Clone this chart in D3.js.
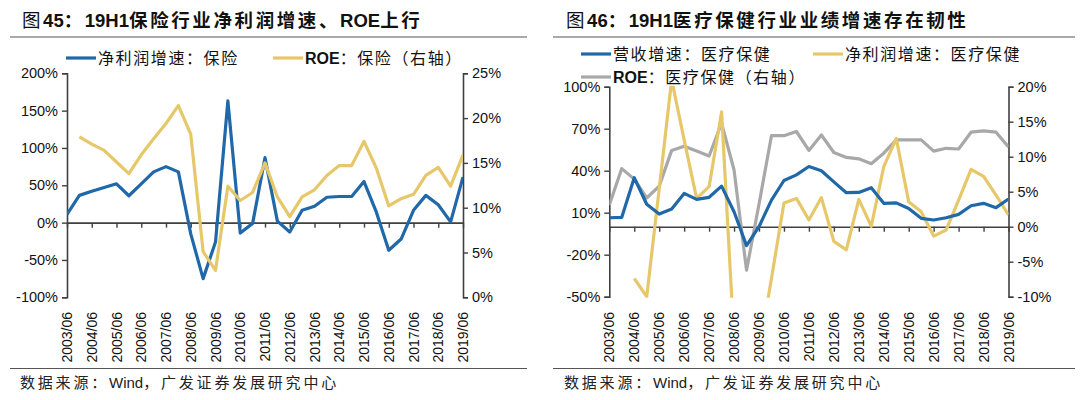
<!DOCTYPE html>
<html>
<head>
<meta charset="utf-8">
<script src="https://cdn.jsdelivr.net/npm/d3@7"></script>
<style>
  body { margin: 0; background: #fff; }
  svg { display: block; }
</style>
</head>
<body>
<div id="chart"></div>
<script>
// semi-annual periods, 2003/06 .. 2019/06
var periods = [
  "2003/06","2003/12","2004/06","2004/12","2005/06","2005/12","2006/06","2006/12",
  "2007/06","2007/12","2008/06","2008/12","2009/06","2009/12","2010/06","2010/12",
  "2011/06","2011/12","2012/06","2012/12","2013/06","2013/12","2014/06","2014/12",
  "2015/06","2015/12","2016/06","2016/12","2017/06","2017/12","2018/06","2018/12","2019/06"
];

// chart 45: insurance
var insProfitGrowth = [11, 36.5, 42, 47, 52, 36, 52, 68, 75, 68, -15, -75, -26, 163, -14, -1,
  87, 2, -12.5, 16.5, 22, 34, 35, 35, 55, 14, -37, -22, 16.5, 36.5, 24, 1, 61];
var insRoe = [null, 17.9, 17.1, 16.4, 15.1, 13.8, 15.9, 17.7, 19.4, 21.4, 18.2, 5.1, 3.0, 12.4, 10.8, 11.7,
  15.0, 11.2, 9.0, 11.2, 12.0, 13.6, 14.7, 14.7, 17.4, 14.4, 10.2, 11.0, 11.5, 13.6, 14.5, 12.4, 15.9];
var insLeftTicks = [-100, -50, 0, 50, 100, 150, 200];
var insRightTicks = [0, 5, 10, 15, 20, 25];

// chart 46: healthcare
var hcRevenueGrowth = [6.4, 6.7, 35, 16, 9, 12.6, 23.8, 19.5, 21, 29, 10.7, -13.5, 0, 19, 33, 37,
  43, 40, 32, 24.3, 24.5, 27.9, 16.7, 17, 13, 6, 4.8, 6.4, 8.8, 15, 16.7, 13.6, 19.8];
var hcProfitGrowth = [null, null, -37, -50, 27, 105, 62, 20.2, 28.6, 82, -81, -100, -89, -37, 17, 20.2,
  4.8, 20.8, -10.5, -16.5, 19.5, 0.3, 42.9, 63, 17.9, 10.7, -6.7, -2.4, 19, 41, 36, 22.6, 8.4];
var hcRoe = [3.1, 8.3, 6.8, 4.1, 5.8, 10.9, 11.5, 10.8, 10.1, 14.8, 8.1, -6.2, 3.2, 13, 13, 13.6,
  10.9, 13.1, 10.6, 9.9, 9.7, 9.0, 10.5, 12.4, 12.4, 12.4, 10.8, 11.2, 11.1, 13.5, 13.7, 13.5, 11.4];
var hcLeftTicks = [-50, -20, 10, 40, 70, 100];
var hcRightTicks = [-10, -5, 0, 5, 10, 15, 20];

var BLUE = "#2068a8", YELLOW = "#e6c86a", GRAY = "#a8a8a8", AXIS = "#404040";
var FONT = "'Liberation Sans', Arial, 'Noto Sans CJK SC', sans-serif";

var svg = d3.select("#chart").append("svg")
  .attr("width", 1080)
  .attr("height", 400)
  .style("font-family", FONT);

// adds tspans; CJK runs get extra letter spacing, latin runs don't
function addRuns(text, parts, cjkSpacing) {
  parts.forEach(function(part) {
    text.append("tspan")
      .style("font-weight", part.bold ? "bold" : "normal")
      .style("letter-spacing", part.latin ? "0px" : cjkSpacing)
      .text(part.t);
  });
}

function drawPanel(p) {
  var g = svg.append("g");

  // title and rules
  var title = g.append("text")
    .attr("x", p.titleX).attr("y", 27)
    .style("font-size", "18.5px")
    .attr("fill", "#111");
  addRuns(title, p.title, "2.6px");

  g.append("line").attr("x1", p.ruleX0).attr("x2", p.ruleX1).attr("y1", 37).attr("y2", 37)
    .attr("stroke", "#555").attr("stroke-width", 1);
  g.append("line").attr("x1", p.ruleX0).attr("x2", p.ruleX1).attr("y1", 368.5).attr("y2", 368.5)
    .attr("stroke", "#555").attr("stroke-width", 1);

  var src = g.append("text")
    .attr("x", p.titleX - 2).attr("y", 388)
    .style("font-size", "15px")
    .attr("fill", "#222");
  addRuns(src, [{ t: "数据来源：" }, { t: "Wind", latin: true }, { t: "，广发证券发展研究中心" }], "2.8px");

  // scales
  var x = d3.scalePoint().domain(periods).range([p.x0, p.x1]);
  var yL = d3.scaleLinear().domain(p.leftDomain).range([p.yBot, p.yTop]);
  var yR = d3.scaleLinear().domain(p.rightDomain).range([p.yBot, p.yTop]);

  // axes
  var leftAxis = d3.axisLeft(yL).tickValues(p.leftTicks).tickSize(5)
    .tickFormat(function(d) { return d + "%"; });
  var rightAxis = d3.axisRight(yR).tickValues(p.rightTicks).tickSize(5)
    .tickFormat(function(d) { return d + "%"; });

  var gl = g.append("g").attr("transform", "translate(" + p.x0 + ",0)").call(leftAxis);
  var gr = g.append("g").attr("transform", "translate(" + p.x1 + ",0)").call(rightAxis);
  [gl, gr].forEach(function(a) {
    a.select(".domain").attr("stroke", AXIS).attr("stroke-width", 1.6);
    a.selectAll(".tick line").attr("stroke", AXIS).attr("stroke-width", 1.4);
    a.selectAll(".tick text")
      .style("font-family", "'Liberation Sans', Arial, sans-serif")
      .style("font-size", "14.5px").attr("fill", "#111");
  });
  gl.selectAll(".tick text").attr("x", -9);
  gr.selectAll(".tick text").attr("x", 9);

  // category axis at zero
  var yearTicks = periods.filter(function(d) { return /\/06$/.test(d); });
  var gx = g.append("g").attr("transform", "translate(0," + yL(0) + ")")
    .call(d3.axisBottom(x).tickValues(yearTicks).tickSize(5).tickSizeOuter(0).tickFormat(""));
  gx.select(".domain").attr("stroke", AXIS).attr("stroke-width", 1.6);
  gx.selectAll(".tick line").attr("stroke", AXIS).attr("stroke-width", 1.4);

  // category labels at the bottom, rotated
  g.append("g").selectAll("text")
    .data(yearTicks)
    .join("text")
    .attr("transform", function(d) { return "translate(" + (x(d) + 5) + "," + 312 + ") rotate(-90)"; })
    .attr("text-anchor", "end")
    .style("font-family", "'Liberation Sans', Arial, sans-serif")
    .style("font-size", "14px")
    .attr("fill", "#111")
    .text(function(d) { return d; });

  // clip lines to the plot area
  var clipId = "clip" + p.id;
  svg.append("clipPath").attr("id", clipId).append("rect")
    .attr("x", p.x0).attr("y", p.yTop - 1)
    .attr("width", p.x1 - p.x0).attr("height", p.yBot - p.yTop + 2);

  var plot = g.append("g").attr("clip-path", "url(#" + clipId + ")");

  p.series.forEach(function(s) {
    var ys = s.axis === "right" ? yR : yL;
    var line = d3.line()
      .defined(function(d) { return d != null; })
      .x(function(d, i) { return x(periods[i]); })
      .y(function(d) { return ys(d); });
    plot.append("path")
      .datum(s.values)
      .attr("fill", "none")
      .attr("stroke", s.color)
      .attr("stroke-width", 3.2)
      .attr("stroke-linejoin", "round")
      .attr("d", line);
  });

  // legend
  p.series.forEach(function(s) {
    var lg = g.append("g").attr("transform", "translate(" + s.lx + "," + s.ly + ")");
    lg.append("line").attr("x1", 0).attr("x2", 30).attr("y1", 0).attr("y2", 0)
      .attr("stroke", s.color).attr("stroke-width", 3.2);
    var t = lg.append("text").attr("x", 32).attr("y", 5.5)
      .style("font-size", "16px").attr("fill", "#111");
    addRuns(t, s.label, "1.6px");
  });
}

drawPanel({
  id: 45,
  title: [{ t: "图" }, { t: "45", bold: true, latin: true }, { t: "：", bold: true },
          { t: "19H1", bold: true, latin: true }, { t: "保险行业净利润增速、", bold: true },
          { t: "ROE", bold: true, latin: true }, { t: "上行", bold: true }],
  titleX: 22, ruleX0: 10, ruleX1: 527,
  x0: 67, x1: 463, yTop: 73.3, yBot: 297.3,
  leftDomain: [-100, 200], rightDomain: [0, 25],
  leftTicks: insLeftTicks, rightTicks: insRightTicks,
  series: [
    { values: insProfitGrowth, color: BLUE, axis: "left", lx: 66, ly: 58,
      label: [{ t: "净利润增速：保险" }] },
    { values: insRoe, color: YELLOW, axis: "right", lx: 273, ly: 58,
      label: [{ t: "ROE", bold: true, latin: true }, { t: "：保险（右轴）" }] }
  ]
});

drawPanel({
  id: 46,
  title: [{ t: "图" }, { t: "46", bold: true, latin: true }, { t: "：", bold: true },
          { t: "19H1", bold: true, latin: true }, { t: "医疗保健行业业绩增速存在韧性", bold: true }],
  titleX: 566, ruleX0: 553, ruleX1: 1075,
  x0: 609.3, x1: 1008.5, yTop: 86.7, yBot: 296.7,
  leftDomain: [-50, 100], rightDomain: [-10, 20],
  leftTicks: hcLeftTicks, rightTicks: hcRightTicks,
  series: [
    { values: hcRoe, color: GRAY, axis: "right", lx: 581, ly: 77,
      label: [{ t: "ROE", bold: true, latin: true }, { t: "：医疗保健（右轴）" }] },
    { values: hcProfitGrowth, color: YELLOW, axis: "left", lx: 813, ly: 54,
      label: [{ t: "净利润增速：医疗保健" }] },
    { values: hcRevenueGrowth, color: BLUE, axis: "left", lx: 581, ly: 54,
      label: [{ t: "营收增速：医疗保健" }] }
  ]
});
</script>
</body>
</html>
